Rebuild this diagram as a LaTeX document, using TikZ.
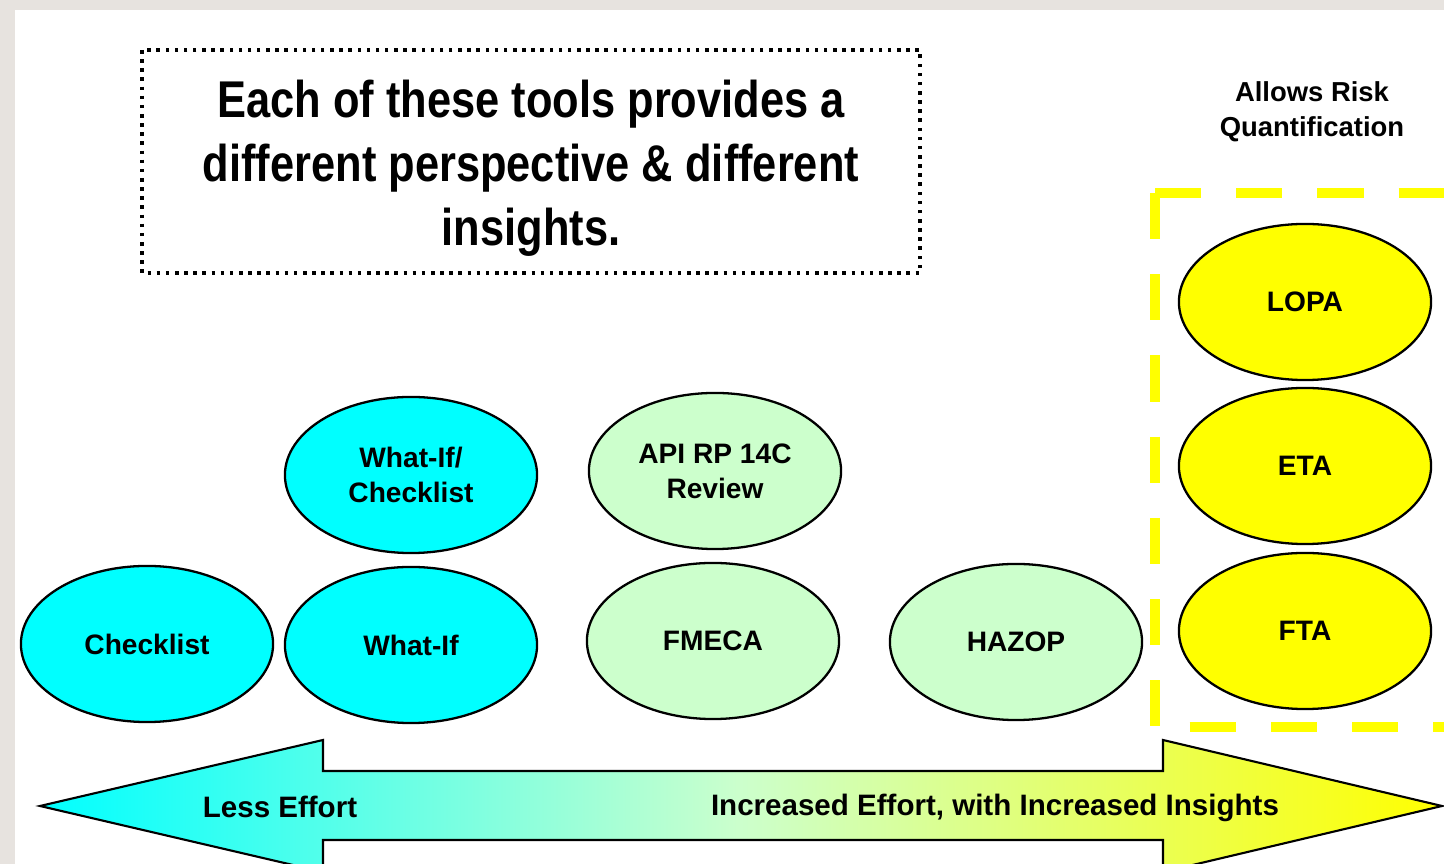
\documentclass[tikz,border=0pt]{standalone}
\usepackage{fontspec}
\setmainfont{Liberation Sans}
\newfontfamily\narrowfont[FakeStretch = 0.84]{Liberation Sans}
\usetikzlibrary{shapes.geometric}
\usetikzlibrary{positioning}

\definecolor{marble}{RGB}{231,227,223}
\definecolor{toolcyan}{RGB}{0,255,255}
\definecolor{toolgreen}{RGB}{204,255,204}
\definecolor{toolyellow}{RGB}{255,255,0}

\begin{document}
\begin{tikzpicture}[x = 0.01cm, y = -0.01cm,
		tool/.style = {ellipse, draw = black, line width = 0.65pt, minimum width = 2.52cm, minimum height = 1.56cm, inner sep = 0pt, align = center, font = \bfseries\fontsize{8}{10}\selectfont},
		arrowlabel/.style = {font = \bfseries\fontsize{8.4}{10}\selectfont}]
					\useasboundingbox (0, 0) rectangle (1444, 864);
					\clip (0, 0) rectangle (1444, 864);
					\fill[marble] (0, 0) rectangle (1444, 864);
					\fill[white] (15, 10) rectangle (1444, 864);
					\draw[black, line width = 1pt, dash pattern = on 1pt off 1.6pt] (142, 50) rectangle (920, 273);
					\node (title) at (531, 168) [align = center, font = \narrowfont\bfseries\fontsize{14.7}{18.2}\selectfont] {Each of these tools provides a\\different perspective \& different\\insights.};
					\node (quant) at (1312, 112) [align = center, font = \bfseries\fontsize{7.8}{10}\selectfont] {Allows Risk\\Quantification};
					\draw[toolyellow, line width = 2.85pt, dash pattern = on 13.1pt off 10pt] (1155, 193)--(1470, 193);
					\draw[toolyellow, line width = 2.85pt, dash pattern = on 13.1pt off 10pt] (1155, 193)--(1155, 727)--(1470, 727);
					\node[tool, fill = toolcyan] (checklist) at (147, 644) {Checklist};
					\node[tool, fill = toolcyan] (whatifcl) at (411, 475) {What-If/\\Checklist};
					\node[tool, fill = toolcyan] (whatif) at (411, 645) {What-If};
					\node[tool, fill = toolgreen] (apirp) at (715, 471) {API RP 14C\\Review};
					\node[tool, fill = toolgreen] (fmeca) at (713, 641) {FMECA};
					\node[tool, fill = toolgreen] (hazop) at (1016, 642) {HAZOP};
					\node[tool, fill = toolyellow] (lopa) at (1305, 302) {LOPA};
					\node[tool, fill = toolyellow] (eta) at (1305, 466) {ETA};
					\node[tool, fill = toolyellow] (fta) at (1305, 631) {FTA};
					% effort arrow
					\draw[black, line width = 0.6pt, left color = toolcyan, right color = toolyellow, middle color = toolgreen] (40, 806)--(323, 740)--(323, 771)--(1163, 771)--(1163, 740)--(1442, 806)--(1163, 872)--(1163, 840)--(323, 840)--(323, 872)--cycle;
					\node[arrowlabel] (less) at (280, 807) {Less Effort};
					\node[arrowlabel] (more) at (995, 808) {Increased Effort, with Increased Insights};
				\end{tikzpicture}
\end{document}
